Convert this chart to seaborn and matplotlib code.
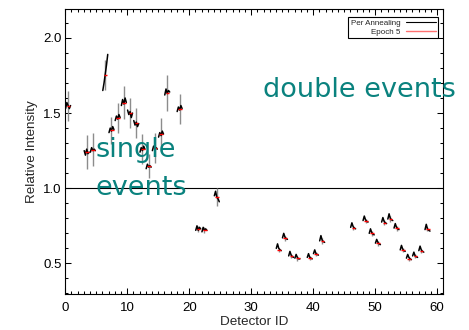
import numpy as np
import pandas as pd
import matplotlib
matplotlib.use("Agg")
import matplotlib.pyplot as plt
from matplotlib.ticker import MultipleLocator
import seaborn as sns

# Detector IDs and their relative intensities
detector_ids = [0, 3, 4, 6, 7, 8, 9, 10, 11, 12, 13, 14, 15, 16, 18,
                21, 22, 24,
                34, 35, 36, 37, 39, 40, 41,
                46, 48, 49, 50, 51, 52, 53, 54, 55, 56, 57, 58]

# Epoch 5 relative intensity per detector
epoch5 = [1.545, 1.24, 1.255, 1.755, 1.385, 1.47, 1.57, 1.50, 1.435, 1.26, 1.145, 1.265, 1.36, 1.635, 1.53,
          0.73, 0.72, 0.94,
          0.59, 0.666, 0.549, 0.533, 0.537, 0.562, 0.648,
          0.737, 0.783, 0.70, 0.633, 0.772, 0.794, 0.733, 0.589, 0.529, 0.549, 0.582, 0.728]

# Relative intensity after each annealing period
anneal_1 = [1.53, 1.25, 1.24, 1.65, 1.37, 1.45, 1.55, 1.52, 1.45, 1.24, 1.13, 1.25, 1.34, 1.62, 1.51,
            0.72, 0.71, 0.95,
            0.60, 0.67, 0.55, 0.535, 0.54, 0.565, 0.65,
            0.74, 0.785, 0.70, 0.635, 0.775, 0.795, 0.735, 0.59, 0.535, 0.55, 0.585, 0.725]
anneal_2 = [1.57, 1.22, 1.27, 1.70, 1.40, 1.48, 1.59, 1.49, 1.42, 1.27, 1.16, 1.28, 1.37, 1.66, 1.54,
            0.75, 0.74, 0.98,
            0.63, 0.70, 0.58, 0.56, 0.565, 0.59, 0.685,
            0.77, 0.815, 0.73, 0.66, 0.805, 0.83, 0.765, 0.62, 0.56, 0.575, 0.615, 0.76]
anneal_3 = [1.55, 1.26, 1.25, 1.76, 1.38, 1.46, 1.56, 1.51, 1.44, 1.25, 1.14, 1.26, 1.35, 1.63, 1.52,
            0.72, 0.72, 0.94,
            0.60, 0.675, 0.555, 0.54, 0.54, 0.565, 0.655,
            0.745, 0.79, 0.705, 0.64, 0.78, 0.80, 0.74, 0.595, 0.54, 0.55, 0.59, 0.73]
anneal_4 = [1.53, 1.23, 1.26, 1.82, 1.41, 1.49, 1.60, 1.47, 1.41, 1.28, 1.15, 1.27, 1.38, 1.65, 1.55,
            0.74, 0.73, 0.93,
            0.59, 0.665, 0.545, 0.53, 0.535, 0.56, 0.645,
            0.735, 0.78, 0.695, 0.63, 0.77, 0.79, 0.73, 0.585, 0.53, 0.545, 0.58, 0.72]
anneal_5 = [1.55, 1.24, 1.25, 1.89, 1.39, 1.47, 1.57, 1.50, 1.43, 1.26, 1.14, 1.26, 1.36, 1.64, 1.53,
            0.73, 0.72, 0.91,
            0.585, 0.66, 0.54, 0.53, 0.53, 0.555, 0.64,
            0.73, 0.775, 0.69, 0.625, 0.765, 0.785, 0.725, 0.58, 0.525, 0.54, 0.575, 0.715]

# Uncertainty of the relative intensity per detector
intensity_err = [0.10, 0.115, 0.11, 0.10, 0.09, 0.10, 0.11, 0.10, 0.10, 0.10, 0.08, 0.10, 0.11, 0.12, 0.10,
                 0.02, 0.02, 0.06,
                 0.015, 0.015, 0.015, 0.015, 0.015, 0.015, 0.02,
                 0.015, 0.015, 0.015, 0.015, 0.015, 0.02, 0.015, 0.015, 0.015, 0.015, 0.015, 0.015]

# Sub-positions of the annealing periods within one detector slot
anneal_offsets = [0.05, 0.25, 0.45, 0.65, 0.85]

sns.set_theme(style="ticks")
plt.rcParams["font.family"] = ["Liberation Sans", "DejaVu Sans"]

ids = np.array(detector_ids, dtype=float)
anneal = np.array([anneal_1, anneal_2, anneal_3, anneal_4, anneal_5])

rows = []
for k, off in enumerate(anneal_offsets):
    for j, det in enumerate(detector_ids):
        rows.append({"detector": det, "x": det + off, "value": anneal[k, j]})
df = pd.DataFrame(rows)

fig = plt.figure(figsize=(4.69, 3.30), dpi=100)
ax = fig.add_axes([65.3 / 469, 1 - 293.5 / 330, 378 / 469, (293.5 - 9.3) / 330])

# error bars per detector
ax.errorbar(ids + 0.45, epoch5, yerr=intensity_err, fmt="none",
            ecolor="#8c8c8c", elinewidth=1.0, capsize=0, zorder=2)

# per annealing series
sns.lineplot(data=df, x="x", y="value", units="detector", estimator=None,
             color="black", linewidth=1.1, ax=ax, zorder=3, legend=False)

# epoch 5 level
ax.hlines(epoch5, ids + 0.2, ids + 0.8, color="red", linewidth=1.0, zorder=4)

ax.axhline(1.0, color="black", linewidth=0.8, zorder=1)

ax.set_xlim(0, 61)
ax.set_ylim(0.3, 2.19)
ax.xaxis.set_major_locator(MultipleLocator(10))
ax.xaxis.set_minor_locator(MultipleLocator(1))
ax.yaxis.set_major_locator(MultipleLocator(0.5))
ax.yaxis.set_minor_locator(MultipleLocator(0.1))
ax.yaxis.set_major_formatter(matplotlib.ticker.FormatStrFormatter("%.1f"))

ax.tick_params(which="both", direction="in", top=True, right=True,
               width=0.75, colors="black", labelsize=9.5)
ax.tick_params(which="major", length=4.3)
ax.tick_params(which="minor", length=2.5)
ax.tick_params(axis="x", which="major", pad=6)
ax.tick_params(axis="y", which="major", pad=2.5)
for s in ax.spines.values():
    s.set_linewidth(0.8)
    s.set_color("black")

ax.set_xlabel("Detector ID", fontsize=9.7, labelpad=1.5)
ax.set_ylabel("Relative Intensity", fontsize=9.7, labelpad=4)

# legend
from matplotlib.lines import Line2D
handles = [Line2D([], [], color="black", linewidth=0.8),
           Line2D([], [], color="#ff7070", linewidth=1.0)]
leg = ax.legend(handles, ["Per Annealing", "Epoch 5"], loc="upper right",
                bbox_to_anchor=(0.987, 0.972), borderaxespad=0, markerfirst=False,
                fontsize=5.8, handlelength=3.7, handletextpad=0.7, labelspacing=0.1,
                borderpad=0.3, fancybox=False, framealpha=1, edgecolor="black")
leg.get_frame().set_linewidth(0.8)

# annotations
teal = "#0a827e"
ax.text(31.9, 1.606, "double events", color=teal, fontsize=19.5,
        family="DejaVu Sans", ha="left", va="baseline", zorder=5, clip_on=False)
ax.text(4.8, 1.206, "single", color=teal, fontsize=19.5,
        family="DejaVu Sans", ha="left", va="baseline", zorder=5)
ax.text(4.8, 0.955, "events", color=teal, fontsize=19.5,
        family="DejaVu Sans", ha="left", va="baseline", zorder=5)

fig.savefig("out.png", dpi=100)
